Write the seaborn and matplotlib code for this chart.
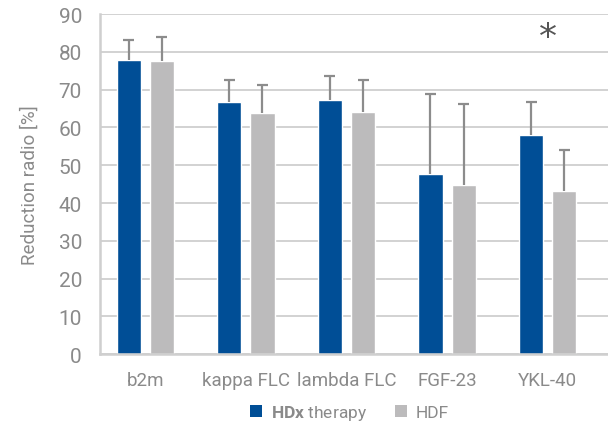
import matplotlib
matplotlib.use("Agg")
import matplotlib.pyplot as plt
import seaborn as sns
import pandas as pd
import numpy as np
from matplotlib.patches import Patch

categories = ["b2m", "kappa FLC", "lambda FLC", "FGF-23", "YKL-40"]
hdx_values = [77.9, 66.8, 67.3, 47.7, 58.0]
hdx_upper = [83.2, 72.6, 73.6, 68.9, 66.8]
hdf_values = [77.6, 63.8, 64.1, 44.8, 43.2]
hdf_upper = [84.0, 71.3, 72.6, 66.2, 54.0]
series = ["HDx therapy", "HDF"]
y_ticks = [0, 10, 20, 30, 40, 50, 60, 70, 80, 90]

BLUE = "#004e96"
GREY = "#bcbbbc"
TEXT = "#8a8a8a"
LINE = "#cfcfcf"
ERR = "#8c8c8c"

sns.set_theme(style="white")
FONT = ["Roboto", "DejaVu Sans"]
plt.rcParams["font.family"] = FONT
plt.rcParams["mathtext.fontset"] = "custom"
plt.rcParams["mathtext.bf"] = "Roboto:bold"
plt.rcParams["mathtext.rm"] = "Roboto"

df = pd.DataFrame({
    "category": categories * 2,
    "series": [series[0]] * len(categories) + [series[1]] * len(categories),
    "value": hdx_values + hdf_values,
})

fig = plt.figure(figsize=(6.08, 4.27), dpi=100)
ax = fig.add_axes([0.1645, 0.1686, 0.8355, 0.7957])

sns.barplot(data=df, x="category", y="value", hue="series", order=categories,
            hue_order=series, palette=[BLUE, GREY], width=0.66, gap=0.27,
            errorbar=None, ax=ax, legend=False, saturation=1)

# error bars (upper only) from bar patches
uppers = hdx_upper + hdf_upper
bars = [p for p in ax.patches if p.get_height() > 0]
cap = 0.055
for p, up in zip(bars, uppers):
    x = p.get_x() + p.get_width() / 2
    h = p.get_height()
    ax.plot([x, x], [h, up], color=ERR, lw=1.6, zorder=1, solid_capstyle="butt")
    ax.plot([x - cap, x + cap], [up, up], color=ERR, lw=1.6, zorder=1,
            solid_capstyle="butt")

ax.set_ylim(0, 90)
ax.set_xlim(-0.45, 4.6)
ax.set_yticks(y_ticks)
ax.yaxis.grid(True, color=LINE, linewidth=1.3)
ax.set_axisbelow(True)
for s in ["top", "right"]:
    ax.spines[s].set_visible(False)
for s in ["left", "bottom"]:
    ax.spines[s].set_color(LINE)
    ax.spines[s].set_linewidth(1.8)

ax.tick_params(axis="y", direction="out", length=9, width=1.3, color=LINE,
               labelcolor=TEXT, labelsize=15, pad=4)
ax.tick_params(axis="x", direction="in", length=12, width=1.0, color=LINE,
               labelcolor=TEXT, labelsize=13.5, pad=12)
ax.set_xlabel("")
ax.set_ylabel("Reduction radio [%]", color=TEXT, fontsize=13.5, labelpad=14)

ax.text(4, 84.0, "*", ha="center", va="center", fontsize=26, color="#555555",
        family=["DejaVu Sans"])

handles = [Patch(facecolor=BLUE, edgecolor="none"), Patch(facecolor=GREY, edgecolor="none")]
leg = fig.legend(handles, [r"$\bf{HDx}$ therapy", "HDF"], loc="center",
                 bbox_to_anchor=(0.575, 0.032), ncol=2, frameon=False,
                 fontsize=12.5, handlelength=0.7, handleheight=0.7,
                 handletextpad=0.5, columnspacing=1.6, borderpad=0.1)
for t in leg.get_texts():
    t.set_color(TEXT)

fig.savefig("out.png", dpi=100)
